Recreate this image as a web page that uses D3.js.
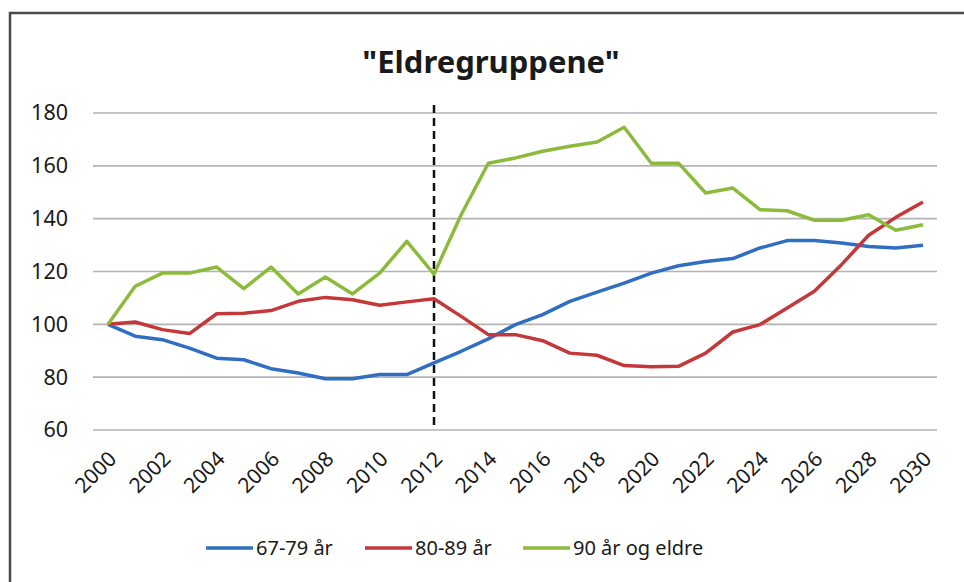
<!DOCTYPE html>
<html>
<head>
<meta charset="utf-8">
<script src="https://cdn.jsdelivr.net/npm/d3@7"></script>
<style>
  body { margin: 0; background: #fff; }
  svg { display: block; }
  text { font-family: "Noto Sans", "Open Sans", sans-serif; fill: #1a1a1a; }
</style>
</head>
<body>
<div id="chart"></div>
<script>
// DATA
var years = d3.range(2000, 2031);
var yTicks = [60, 80, 100, 120, 140, 160, 180];
var xTickYears = d3.range(2000, 2031, 2);
var seriesNames = ['67-79 år', '80-89 år', '90 år og eldre'];
var seriesColors = ['#2f6ec1', '#c4383a', '#8cbb3c'];
var markerYear = 2012;

var age67 = [100, 95.5, 94.2, 91, 87.2, 86.6, 83.2, 81.6, 79.4, 79.4, 81, 81, 85.4, 89.8, 94.5,
  99.9, 103.7, 108.7, 112.2, 115.6, 119.4, 122.2, 123.8, 124.9, 128.9, 131.7, 131.7, 130.8, 129.5, 128.9, 129.9];
var age80 = [100, 100.9, 98, 96.5, 104, 104.2, 105.2, 108.7, 110.2, 109.3, 107.2, 108.5, 109.7, 103, 96.1,
  96.1, 93.8, 89.1, 88.3, 84.4, 83.9, 84.1, 89.1, 97.1, 99.9, 106.2, 112.5, 122.6, 133.7, 140.5, 146.3];
var age90 = [100, 114.4, 119.4, 119.4, 121.7, 113.5, 121.7, 111.5, 117.9, 111.5, 119.4, 131.4, 119, 141.5, 161,
  163, 165.5, 167.4, 169, 174.6, 161, 161, 149.7, 151.6, 143.4, 143, 139.4, 139.4, 141.5, 135.6, 137.7];

var allSeries = [age67, age80, age90];

// LAYOUT
var width = 964;
var height = 582;

var svg = d3.select('#chart')
  .append('svg')
  .attr('width', width)
  .attr('height', height);

// chart frame (scan only shows top and left edges)
svg.append('path')
  .attr('d', 'M10,' + (height) + 'V13H' + width)
  .attr('fill', 'none')
  .attr('stroke', '#4a4a4a')
  .attr('stroke-width', 2.5);

// TITLE
svg.append('text')
  .attr('x', 491)
  .attr('y', 73)
  .attr('text-anchor', 'middle')
  .style('font-size', '31px')
  .style('font-weight', 'bold')
  .text('"Eldregruppene"');

// SCALES
var x = d3.scaleLinear().domain([2000, 2030]).range([108, 923]);
var y = d3.scaleLinear().domain([60, 180]).range([430, 113]);

// GRIDLINES
svg.append('g')
  .selectAll('line')
  .data(yTicks)
  .enter()
  .append('line')
  .attr('x1', 93)
  .attr('x2', 937)
  .attr('y1', function(d) { return y(d); })
  .attr('y2', function(d) { return y(d); })
  .attr('stroke', '#b3b3b3')
  .attr('stroke-width', 1.6);

// Y AXIS LABELS
var yAxis = d3.axisLeft(y).tickValues(yTicks).tickSize(0).tickPadding(0);
var gy = svg.append('g')
  .attr('transform', 'translate(68,0)')
  .call(yAxis);
gy.select('.domain').remove();
gy.selectAll('text')
  .style('font-size', '21.5px')
  .style('font-family', '"Noto Sans", sans-serif')
  .attr('fill', '#1a1a1a');

// X AXIS LABELS (rotated)
var xAxis = d3.axisBottom(x).tickValues(xTickYears).tickFormat(d3.format('d')).tickSize(0).tickPadding(0);
var gx = svg.append('g')
  .attr('transform', 'translate(0,440)')
  .call(xAxis);
gx.select('.domain').remove();
gx.selectAll('text')
  .style('font-size', '21px')
  .style('font-family', '"Noto Sans", sans-serif')
  .attr('fill', '#1a1a1a')
  .attr('text-anchor', 'end')
  .attr('dy', '0.35em')
  .attr('transform', 'translate(4,15) rotate(-45)');

// DASHED MARKER LINE
svg.append('line')
  .attr('x1', x(markerYear))
  .attr('x2', x(markerYear))
  .attr('y1', 105)
  .attr('y2', 430)
  .attr('stroke', '#111')
  .attr('stroke-width', 2.5)
  .attr('stroke-dasharray', '8,5');

// LINES
var line = d3.line()
  .x(function(d, i) { return x(years[i]); })
  .y(function(d) { return y(d); });

svg.append('g')
  .selectAll('path')
  .data(allSeries)
  .enter()
  .append('path')
  .attr('d', line)
  .attr('fill', 'none')
  .attr('stroke', function(d, i) { return seriesColors[i]; })
  .attr('stroke-width', 3.5)
  .attr('stroke-linejoin', 'round');

// LEGEND
var legendX = [206, 365, 523];
var legend = svg.selectAll('.legend')
  .data(seriesNames)
  .enter()
  .append('g')
  .attr('class', 'legend')
  .attr('transform', function(d, i) { return 'translate(' + legendX[i] + ',548)'; });

legend.append('line')
  .attr('x1', 0)
  .attr('x2', 47)
  .attr('stroke', function(d, i) { return seriesColors[i]; })
  .attr('stroke-width', 3.5);

legend.append('text')
  .attr('x', 50)
  .attr('dy', '0.35em')
  .style('font-size', '20px')
  .text(function(d) { return d; });
</script>
</body>
</html>
